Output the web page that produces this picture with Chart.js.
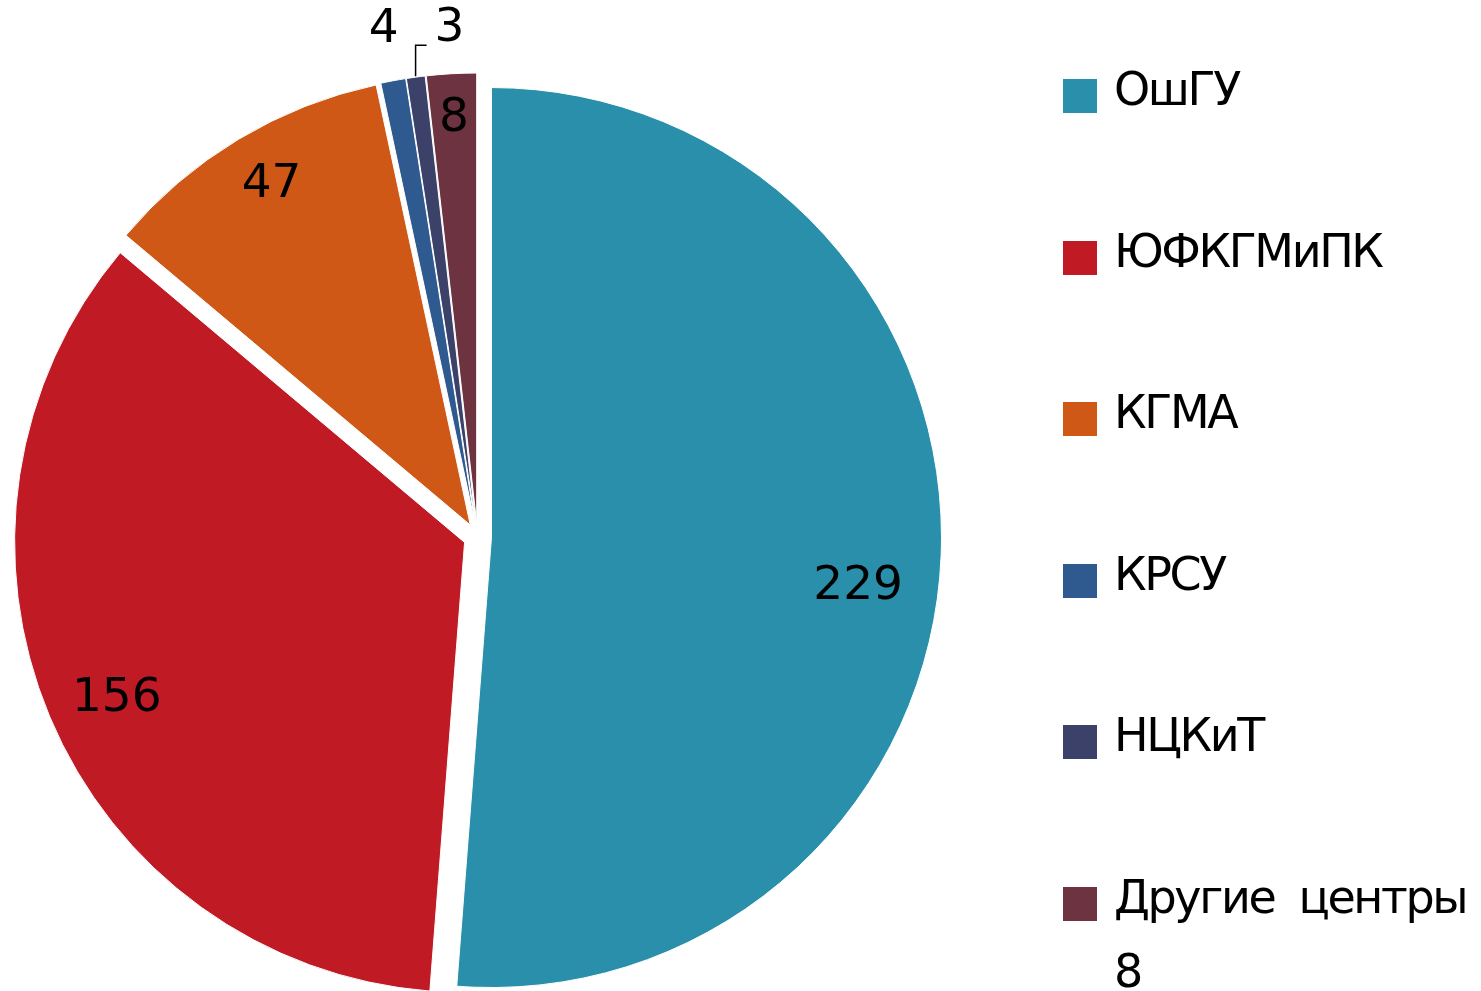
<!DOCTYPE html>
<html lang="ru">
<head>
    <meta charset="UTF-8">
    <meta name="viewport" content="width=device-width, initial-scale=1.0">
    <title>grafico</title>
    <script src="https://cdn.jsdelivr.net/npm/chart.js"></script>
    <style>
      body { margin: 0; background: #fff; font-family: "DejaVu Sans", sans-serif; }
      .fundo { position: absolute; left: 0; top: 0; width: 1481px; height: 991px; }
      .legenda { position: absolute; left: 1063px; top: 0; }
      .item { position: absolute; left: 0; width: 418px; font-size: 46px; line-height: 74px; color: #000; letter-spacing: -2.4px; word-spacing: 12px; }
      .quad { position: absolute; left: 0; top: 27px; width: 34px; height: 34px; }
      .txt { position: absolute; left: 51px; width: 375px; }
    </style>
</head>
<body>
    <div class="fundo">
      <canvas id="myChart"></canvas>
    </div>
    <div class="legenda" id="legenda"></div>

<script>
  // dados
  const categorias = ['ОшГУ', 'ЮФКГМиПК', 'КГМА', 'КРСУ', 'НЦКиТ', 'Другие центры 8']
  const valores = [229, 156, 47, 4, 3, 8]
  const cores = ['#2A8FAA', '#C01A24', '#CF5817', '#2F5A8F', '#3C4169', '#6E3340']

  // quanto cada fatia sai do centro (px)
  const afastamento = 14

  // desenha as fatias do proprio chart.js, so deslocadas pra fora
  const explodir = {
    id: 'explodir',
    beforeDatasetDraw(chart, args) {
      const ctx = chart.ctx
      args.meta.data.forEach(arc => {
        const p = arc.getProps(['startAngle', 'endAngle'], true)
        const meio = (p.startAngle + p.endAngle) / 2
        ctx.save()
        ctx.translate(Math.cos(meio) * afastamento, Math.sin(meio) * afastamento)
        arc.draw(ctx)
        ctx.restore()
      })
      return false
    }
  }

  // posicao dos rotulos: fracao do raio e giro em graus
  const posRotulos = [
    {r: 0.822, giro: 5.4},
    {r: 0.847, giro: -1.4},
    {r: 0.875, giro: 0.7},
    {r: 1.116, giro: 0},
    {linha: true},
    {r: 0.9, giro: 0}
  ]

  const rotulos = {
    id: 'rotulos',
    afterDatasetsDraw(chart) {
      const ctx = chart.ctx
      const meta = chart.getDatasetMeta(0)
      ctx.save()
      ctx.font = '47px "DejaVu Sans"'
      ctx.fillStyle = '#000'
      ctx.strokeStyle = '#000'
      ctx.lineWidth = 1.5
      ctx.textBaseline = 'middle'
      meta.data.forEach((arc, i) => {
        const p = arc.getProps(['x', 'y', 'startAngle', 'endAngle', 'outerRadius'], true)
        const meio = (p.startAngle + p.endAngle) / 2
        const cx = p.x + Math.cos(meio) * afastamento
        const cy = p.y + Math.sin(meio) * afastamento
        const cfg = posRotulos[i]
        if (cfg.linha) {
          const x0 = cx + Math.cos(meio) * (p.outerRadius + 1)
          const y0 = cy + Math.sin(meio) * (p.outerRadius + 1)
          ctx.beginPath()
          ctx.moveTo(x0, y0)
          ctx.lineTo(x0, y0 - 31)
          ctx.lineTo(x0 + 11, y0 - 31)
          ctx.stroke()
          ctx.textAlign = 'left'
          ctx.fillText(String(valores[i]), x0 + 19, y0 - 47)
        } else {
          const a = meio + cfg.giro * Math.PI / 180
          const rr = p.outerRadius * cfg.r
          ctx.textAlign = 'center'
          ctx.fillText(String(valores[i]), cx + Math.cos(a) * rr, cy + Math.sin(a) * rr)
        }
      })
      ctx.restore()
    }
  }

  function legenda() {
    const div = document.getElementById('legenda')
    for (let i = 0; i < categorias.length; i++) {
      const item = document.createElement('div')
      item.className = 'item'
      item.style.top = (52 + 161.6 * i) + 'px'
      item.innerHTML = '<div class="quad" style="background:' + cores[i] + '"></div><div class="txt">' + categorias[i] + '</div>'
      div.appendChild(item)
    }
  }

  function grafico() {
    const ctx = document.getElementById('myChart')
    new Chart(ctx, {
      type: 'pie',
      data: {
        labels: categorias,
        datasets: [{
          data: valores,
          backgroundColor: cores,
          borderColor: '#ffffff',
          borderWidth: 1,
          hoverOffset: 0
        }]
      },
      options: {
        responsive: true,
        maintainAspectRatio: false,
        animation: false,
        radius: 450,
        layout: { padding: { left: 28, right: 554, top: 88, bottom: 5 } },
        plugins: {
          legend: { display: false },
          tooltip: { enabled: false }
        }
      },
      plugins: [explodir, rotulos]
    })
  }

  legenda()
  grafico()
</script>
</body>
</html>
